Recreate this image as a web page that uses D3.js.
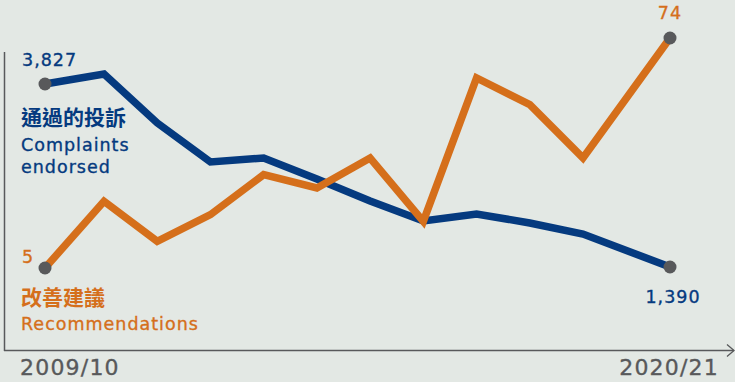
<!DOCTYPE html>
<html><head><meta charset="utf-8">
<script src="https://cdn.jsdelivr.net/npm/d3@7"></script>
<style>
html,body{margin:0;padding:0;background:#e3e8e4;}
svg{display:block;}
text{font-family:"DejaVu Sans","Noto Sans CJK TC",sans-serif;}
</style></head>
<body><svg id="c" width="735" height="382"></svg>
<script>
const years = ["2009/10","2010/11","2011/12","2012/13","2013/14","2014/15","2015/16","2016/17","2017/18","2018/19","2019/20","2020/21"];
const complaints = [3827,3960,3308,2788,2842,2562,2269,2003,2096,1976,1829,1390];
const recommendations = [5,25,13,21,33,29,38,19,62,54,38,74];
const complaintsLabel = ["通過的投訴","Complaints","endorsed"];
const recLabel = ["改善建議","Recommendations"];

const blue = "#053a7f", orange = "#d56f1b", grey = "#58595b";
const svg = d3.select("#c");

const x = d3.scaleLinear().domain([0,1,10,11]).range([45,104,583,670]);
const yC = d3.scaleLinear().domain([1390,3827]).range([267,84]);
const yR = d3.scaleLinear().domain([5,74]).range([268,38]);

// axes
svg.append("line").attr("x1",4.5).attr("x2",4.5).attr("y1",52).attr("y2",351)
  .attr("stroke",grey).attr("stroke-width",1.5);
svg.append("line").attr("x1",4).attr("x2",734).attr("y1",350.5).attr("y2",350.5)
  .attr("stroke",grey).attr("stroke-width",1.5);
svg.append("path").attr("d","M727,344.5L734,350.5L727,356.5").attr("fill","none")
  .attr("stroke",grey).attr("stroke-width",1.3);

const line = (ys, vals) => d3.line().x((d,i)=>x(i)).y(d=>ys(d))(vals);
svg.append("path").attr("d",line(yC,complaints)).attr("fill","none")
  .attr("stroke",blue).attr("stroke-width",7.5).attr("stroke-linejoin","miter");
svg.append("path").attr("d",line(yR,recommendations)).attr("fill","none")
  .attr("stroke",orange).attr("stroke-width",7.5).attr("stroke-linejoin","miter");

// end dots
const last = years.length-1;
[[0,yC(complaints[0])],[last,yC(complaints[last])],[0,yR(recommendations[0])],[last,yR(recommendations[last])]]
 .forEach(([i,yy])=>svg.append("circle").attr("cx",x(i)).attr("cy",yy).attr("r",6.5).attr("fill",grey));

const fmt = d3.format(",");
function txt(xp, yp, s, col, size, anchor, ls){
  return svg.append("text").attr("x",xp).attr("y",yp).text(s)
    .attr("fill",col).attr("stroke",col).attr("stroke-width",0.35)
    .attr("font-size",size).attr("text-anchor",anchor||"start").attr("letter-spacing",ls==null?1:ls);
}
// value labels
txt(22, 66, fmt(complaints[0]), blue, 17.5);
txt(x(last)+3, yC(complaints[last])+36, fmt(complaints[last]), blue, 17.5, "middle");
txt(22, 263, fmt(recommendations[0]), orange, 17.5);
txt(x(last), yR(recommendations[last])-19, fmt(recommendations[last]), orange, 17.5, "middle");

// series labels
svg.append("text").attr("x",21).attr("y",125).text(complaintsLabel[0])
  .attr("fill",blue).attr("font-size",21).attr("font-weight",700).attr("font-family","Noto Sans CJK TC");
txt(21, 151, complaintsLabel[1], blue, 17.5);
txt(21, 173, complaintsLabel[2], blue, 17.5);
svg.append("text").attr("x",21).attr("y",305).text(recLabel[0])
  .attr("fill",orange).attr("font-size",21).attr("font-weight",700).attr("font-family","Noto Sans CJK TC");
txt(21, 330, recLabel[1], orange, 17.5);

// x tick labels
txt(20, 375, years[0], grey, 22, "start", 1.2);
txt(719, 375, years[last], grey, 22, "end", 1.2);
</script></body></html>
